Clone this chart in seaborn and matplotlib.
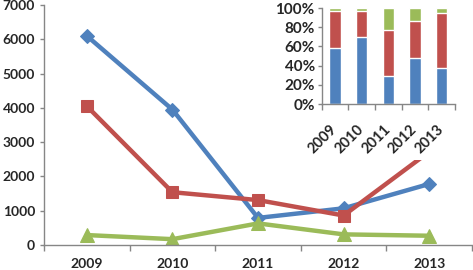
import numpy as np
import pandas as pd
import matplotlib
matplotlib.use("Agg")
import matplotlib.pyplot as plt
import seaborn as sns
from matplotlib.patches import Rectangle
from matplotlib.ticker import PercentFormatter

# ---- data ----
years = ["2009", "2010", "2011", "2012", "2013"]
series_blue = [6100, 3950, 790, 1070, 1780]
series_red = [4050, 1540, 1310, 860, 2720]
series_green = [290, 170, 630, 310, 270]
y_ticks = [0, 1000, 2000, 3000, 4000, 5000, 6000, 7000]
pct_ticks = [0, 20, 40, 60, 80, 100]

colors = ["#4F81BD", "#C0504D", "#9BBB59"]
markers = ["D", "s", "^"]
msizes = [7.5, 8.5, 9.5]
gray = "#868686"

sns.set_theme(style="ticks")
plt.rcParams["font.family"] = ["Lato", "DejaVu Sans"]
plt.rcParams["font.weight"] = "bold"

fig = plt.figure(figsize=(4.73, 2.70), dpi=100)
W, H = 473, 270

# ---- main chart ----
ax = fig.add_axes([44 / W, 25 / H, 428 / W, 240 / H])
ax.set_zorder(1)
xs = np.arange(len(years))
for vals, c, m, ms in zip([series_blue, series_red, series_green], colors, markers, msizes):
    df = pd.DataFrame({"x": xs, "y": vals})
    sns.lineplot(data=df, x="x", y="y", color=c, marker=m, markersize=ms,
                 markeredgecolor=c, linewidth=3.2, ax=ax, legend=False)

ax.set_xlim(-0.5, len(years) - 0.5)
ax.set_ylim(0, 7000)
ax.set_xticks(np.arange(-0.5, len(years), 1))
ax.set_xticklabels([])
ax.set_xticks(xs, minor=True)
ax.set_xticklabels(years, minor=True)
ax.tick_params(axis="x", which="major", length=4, width=1, color=gray, direction="out")
ax.tick_params(axis="x", which="minor", length=0, pad=9, labelsize=10)
ax.set_yticks(y_ticks)
ax.tick_params(axis="y", length=3, width=1, color=gray, direction="out", pad=3.5, labelsize=10)
ax.set_xlabel("")
ax.set_ylabel("")
for s in ["top", "right"]:
    ax.spines[s].set_visible(False)
for s in ["left", "bottom"]:
    ax.spines[s].set_color(gray)
    ax.spines[s].set_linewidth(1)

# white backing behind inset
fig.add_artist(Rectangle((265 / W, 110 / H), 208 / W, 160 / H, transform=fig.transFigure,
                         facecolor="white", edgecolor="none", zorder=2))

# ---- inset 100% stacked bars ----
axin = fig.add_axes([321.7 / W, (H - 104) / H, (455 - 321.7) / W, 96 / H])
axin.set_zorder(3)
a = np.array(series_blue, float)
b = np.array(series_red, float)
c = np.array(series_green, float)
tot = a + b + c
stacks = [(a + b + c) / tot * 100, (a + b) / tot * 100, a / tot * 100]
for vals, col in zip(stacks, [colors[2], colors[1], colors[0]]):
    sns.barplot(x=years, y=vals, color=col, width=0.42, saturation=1, ax=axin)

axin.set_xlim(-0.5, len(years) - 0.5)
axin.set_ylim(0, 100)
axin.set_yticks(pct_ticks)
axin.yaxis.set_major_formatter(PercentFormatter(decimals=0))
axin.set_xticks(np.arange(-0.5, len(years), 1))
axin.set_xticklabels([])
axin.set_xticks(xs, minor=True)
axin.set_xticklabels(years, minor=True, rotation=45, ha="right", va="center",
                     rotation_mode="anchor")
axin.tick_params(axis="x", which="major", length=4, width=1, color=gray, direction="out")
axin.tick_params(axis="x", which="minor", length=0, pad=17, labelsize=10.5)
axin.tick_params(axis="y", length=3, width=1, color=gray, direction="out", pad=2, labelsize=11)
axin.set_xlabel("")
axin.set_ylabel("")
for s in ["top", "right"]:
    axin.spines[s].set_visible(False)
for s in ["left", "bottom"]:
    axin.spines[s].set_color(gray)
    axin.spines[s].set_linewidth(1)

fig.savefig("out.png", dpi=100)
